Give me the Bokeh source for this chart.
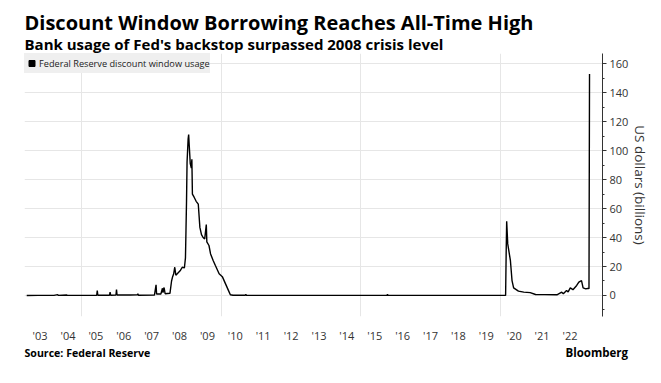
import pandas as pd
from bokeh.plotting import figure
from bokeh.layouts import column, row
from bokeh.models import (ColumnDataSource, Range1d, FixedTicker, SingleIntervalTicker,
                          CustomJSTickFormatter, Legend, LegendItem)
from bokeh.core.properties import value
from bokeh.embed import file_html
from bokeh.resources import INLINE

# ---- data, US$ billions ----
dates = [
    "2003-01-08", "2003-06-04", "2003-12-31", "2004-02-18", "2004-02-25", "2004-06-16",
    "2004-06-23", "2004-12-29", "2005-07-13", "2005-07-20", "2005-07-27", "2005-12-28",
    "2006-01-04", "2006-01-11", "2006-03-22", "2006-03-29", "2006-04-05", "2006-09-27",
    "2006-12-27", "2007-01-03", "2007-01-10", "2007-08-08", "2007-08-29", "2007-09-05",
    "2007-10-31", "2007-11-21", "2007-11-28", "2007-12-12", "2007-12-26", "2008-02-27",
    "2008-03-19", "2008-04-02", "2008-04-16", "2008-04-30", "2008-05-14", "2008-06-11",
    "2008-07-09", "2008-08-06", "2008-09-03", "2008-09-17", "2008-09-24", "2008-10-01",
    "2008-10-08", "2008-10-22", "2008-10-29", "2008-11-05", "2008-11-19", "2008-12-03",
    "2008-12-10", "2008-12-17", "2009-01-07", "2009-02-04", "2009-03-04", "2009-03-25",
    "2009-04-15", "2009-05-06", "2009-05-27", "2009-06-17", "2009-06-24", "2009-07-22",
    "2009-08-12", "2009-09-16", "2009-10-14", "2009-12-02", "2010-01-13", "2010-02-24",
    "2010-04-07", "2010-04-28", "2010-06-02", "2010-11-10", "2010-11-17", "2010-11-24",
    "2012-06-06", "2015-12-09", "2015-12-16", "2015-12-23", "2019-12-31", "2020-03-11",
    "2020-03-18", "2020-03-25", "2020-04-08", "2020-05-13", "2020-06-03", "2020-06-24",
    "2020-08-26", "2020-11-04", "2021-01-27", "2021-04-07", "2021-08-04", "2022-01-12",
    "2022-03-16", "2022-04-06", "2022-05-18", "2022-06-08", "2022-07-06", "2022-08-10",
    "2022-09-28", "2022-10-26", "2022-11-30", "2022-12-21", "2023-01-25", "2023-03-01",
    "2023-03-08", "2023-03-15",
]
usage = [
    0.03, 0.05, 0.1, 0.6, 0.05, 0.3,
    0.05, 0.1, 0.2, 3.4, 0.2, 0.2,
    2.3, 0.2, 0.3, 4.0, 0.3, 0.3,
    0.4, 1.2, 0.2, 0.3, 7.4, 1.0,
    1.0, 5.0, 2.0, 5.5, 1.2, 1.5,
    10.0, 13.0, 15.0, 19.5, 14.0, 15.5,
    17.0, 19.5, 19.0, 26.0, 45.0, 65.0,
    92.0, 108.0, 111.0, 104.0, 91.0, 88.0,
    94.0, 70.0, 68.0, 65.0, 63.0, 47.0,
    42.0, 40.0, 39.0, 49.0, 37.0, 34.5,
    28.7, 24.0, 20.7, 15.0, 13.0, 8.0,
    3.0, 0.5, 0.2, 0.2, 0.7, 0.1,
    0.05, 0.1, 0.8, 0.1, 0.05, 0.05,
    28.0, 51.2, 35.6, 24.0, 10.3, 5.3,
    3.0, 2.3, 2.0, 0.7, 0.6, 0.5,
    2.3, 1.2, 3.4, 2.5, 5.3, 4.0,
    6.9, 9.2, 10.3, 5.3, 4.6, 5.0,
    4.6, 152.9,
]
tick_years = list(range(2003, 2023))
grid_years = [2005, 2010, 2015, 2020]
y_ticks = [0, 20, 40, 60, 80, 100, 120, 140, 160]

title_text = "Discount Window Borrowing Reaches All-Time High"
subtitle_text = "Bank usage of Fed's backstop surpassed 2008 crisis level"
source_text = "Source: Federal Reserve"
brand_text = "Bloomberg"
legend_text = "Federal Reserve discount window usage"
y_label = "US dollars (billions)"

FONT = "Open Sans"
W = 661


def ms(s):
    return pd.Timestamp(s).value / 1e6


def blank(height):
    f = figure(width=W, height=height, x_range=Range1d(0, W), y_range=Range1d(0, height),
               output_backend="svg", toolbar_location=None,
               min_border_left=0, min_border_right=0, min_border_top=0, min_border_bottom=0,
               x_axis_type=None, y_axis_type=None)
    f.outline_line_color = None
    f.xgrid.visible = False
    f.ygrid.visible = False
    return f


# ---- header ----
hdr = blank(53)
hdr.text(x=[24], y=[31], text=[title_text], text_font=value(FONT), text_font_size="20px",
         text_font_style="bold", text_color="black", text_baseline="middle")
hdr.text(x=[24], y=[10], text=[subtitle_text], text_font=value(FONT), text_font_size="15px",
         text_font_style="bold", text_color="black", text_baseline="middle")

# ---- main chart ----
src = ColumnDataSource(dict(date=pd.to_datetime(dates), value=usage))

p = figure(width=W, height=292, x_axis_type="datetime", y_axis_location="right",
           x_range=Range1d(ms("2002-12-10"), ms("2023-09-01")),
           y_range=Range1d(-14.5, 167),
           output_backend="svg", toolbar_location=None,
           min_border_left=24, min_border_right=59, min_border_top=0, min_border_bottom=29)
p.outline_line_color = None

xa = p.xaxis[0]
xa.ticker = FixedTicker(ticks=[ms(f"{y}-07-02") for y in tick_years])
xa.formatter = CustomJSTickFormatter(code="return \"'\" + String(new Date(tick).getUTCFullYear()).slice(2);")
xa.axis_line_color = None
xa.major_tick_line_color = None
xa.minor_tick_line_color = None
xa.major_tick_out = 0
xa.major_tick_in = 0
xa.minor_tick_out = 0
xa.minor_tick_in = 0
xa.major_label_standoff = 11
xa.major_label_text_font = FONT
xa.major_label_text_font_size = "11px"
xa.major_label_text_color = "#333333"

ya = p.yaxis[0]
ya.ticker = SingleIntervalTicker(interval=20, num_minor_ticks=2)
ya.axis_label = y_label
ya.axis_label_text_font = FONT
ya.axis_label_text_font_style = "normal"
ya.axis_label_text_font_size = "13.5px"
ya.axis_label_text_color = "#333333"
ya.axis_label_standoff = 0
ya.axis_line_color = "#333333"
ya.major_tick_line_color = "#333333"
ya.minor_tick_line_color = "#333333"
ya.major_tick_out = 4
ya.major_tick_in = 0
ya.minor_tick_out = 2
ya.minor_tick_in = 0
ya.major_label_standoff = 3
ya.major_label_text_font = FONT
ya.major_label_text_font_size = "11px"
ya.major_label_text_color = "#333333"

p.xgrid.ticker = FixedTicker(ticks=[ms(f"{y}-01-01") for y in grid_years])
p.ygrid.ticker = FixedTicker(ticks=y_ticks)
p.xgrid.grid_line_color = "#e6e6e6"
p.ygrid.grid_line_color = "#e6e6e6"

line_r = p.line("date", "value", source=src, color="black", line_width=1.4)

# legend swatch: a square marker renderer with no visible point
leg_r = p.scatter(x=[float("nan")], y=[float("nan")], marker="square", size=7, color="black")
legend = Legend(items=[LegendItem(label=legend_text, renderers=[leg_r])],
                location="top_left", margin=0, padding=0, spacing=0, label_standoff=0,
                glyph_width=15, glyph_height=20, label_height=10,
                label_text_font=FONT, label_text_font_size="9.2px", label_text_color="#222222",
                background_fill_color="#efefef", background_fill_alpha=1, border_line_color=None)
legend.label_text_baseline = "middle"
p.add_layout(legend)

# ---- footer ----
ftr = blank(38)
ftr.text(x=[24], y=[31], text=[source_text], text_font=value(FONT), text_font_size="10.6px",
         text_font_style="bold", text_color="black", text_baseline="middle")
ftr.text(x=[565], y=[31], text=[brand_text], text_font=value(FONT), text_font_size="11.5px",
         text_font_style="bold", text_color="black", text_baseline="middle")

layout = column(row(hdr), p, row(ftr), spacing=0)
open("out.html", "w").write(file_html(layout, INLINE))
